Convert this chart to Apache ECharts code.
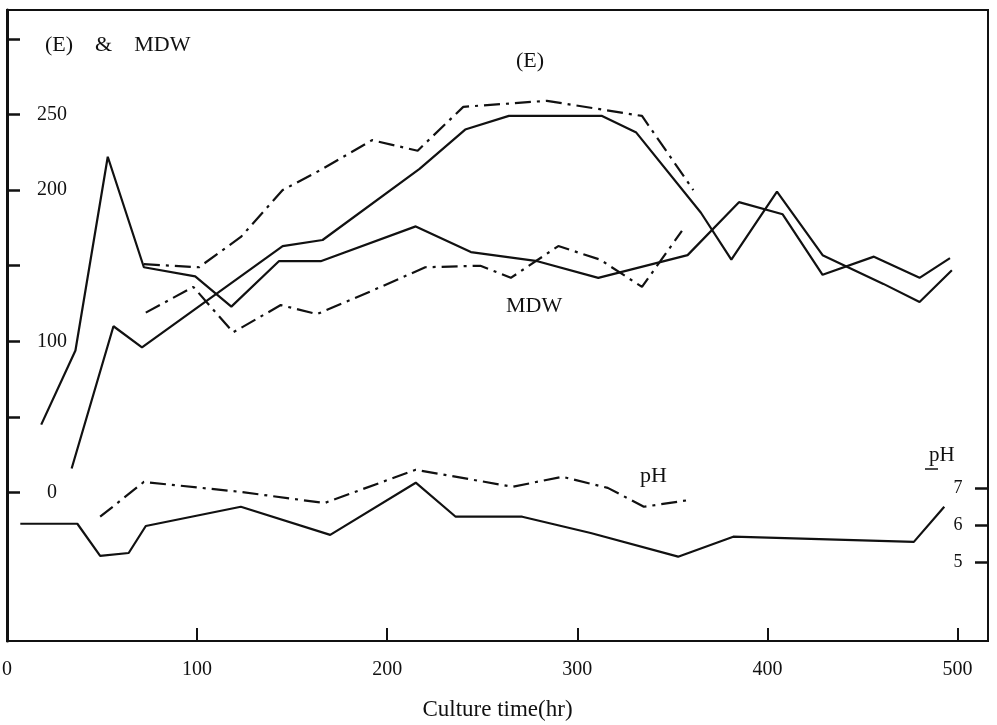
<!DOCTYPE html>
<html>
<head>
<meta charset="utf-8">
<script src="https://cdn.jsdelivr.net/npm/echarts@6/dist/echarts.min.js"></script>
<style>
	html, body { margin: 0; padding: 0; background: #fff; }
	#chart { width: 997px; height: 725px; }
</style>
</head>
<body>
<div id="chart"></div>
<script>
// culture time (hr) and readings
var eSolidHr = [34, 56, 71, 145, 166, 217, 241, 264, 313, 331, 365, 381, 405, 429, 461, 480, 497];
var eSolidVal = [16, 110, 96, 163, 167, 214, 240, 249, 249, 238, 185, 154, 199, 157, 138, 126, 147];

var eDashHr = [72, 101, 123, 145, 166, 192, 216, 240, 284, 334, 361];
var eDashVal = [151, 149, 169, 200, 214, 233, 226, 255, 259, 249, 200];

var mdwSolidHr = [18, 36, 53, 72, 99, 118, 143, 165, 215, 244, 279, 311, 358, 385, 408, 429, 456, 480, 496];
var mdwSolidVal = [45, 94, 222, 149, 143, 123, 153, 153, 176, 159, 153, 142, 157, 192, 184, 144, 156, 142, 155];

var mdwDashHr = [73, 98, 119, 144, 163, 193, 220, 249, 265, 290, 312, 334, 355];
var mdwDashVal = [119, 136, 106, 124, 118, 134, 149, 150, 142, 163, 154, 136, 173];

var phSolidHr = [7, 37, 49, 64, 73, 123, 170, 215, 236, 271, 307, 353, 382, 477, 493];
var phSolidVal = [6.03, 6.03, 5.16, 5.24, 5.97, 6.49, 5.73, 7.14, 6.22, 6.22, 5.78, 5.14, 5.68, 5.54, 6.49];

var phDashHr = [49, 72, 123, 167, 215, 266, 292, 316, 335, 360];
var phDashVal = [6.22, 7.16, 6.89, 6.59, 7.49, 7.03, 7.30, 7.00, 6.49, 6.68];

var xLabels = [0, 100, 200, 300, 400, 500];
var xTicks = [100, 200, 300, 400, 500];
var leftTicks = [0, 50, 100, 150, 200, 250, 300];
var leftLabels = [0, 100, 200, 250];
var phTicks = [5, 6, 7];

var FONT = 'Liberation Serif';
var INK = '#111';
var DASHDOT = [16, 6, 3, 6];

function zip(xs, ys) {
	var out = [];
	for (var i = 0; i < xs.length; i++) {
		out.push([xs[i], ys[i]]);
	}
	return out;
}

function lineSeries(name, xs, ys, dashed, yIdx) {
	return {
		name: name,
		type: 'line',
		yAxisIndex: yIdx || 0,
		data: zip(xs, ys),
		symbol: 'none',
		silent: true,
		animation: false,
		lineStyle: {
			color: INK,
			width: 2.2,
			type: dashed ? DASHDOT : 'solid'
		}
	};
}

function note(x, y, txt, size) {
	return { type: 'text', left: x, top: y, style: { text: txt, font: size + 'px "Liberation Serif"', fill: INK } };
}

var chart = echarts.init(document.getElementById('chart'));
chart.setOption({
	backgroundColor: '#fff',
	animation: false,
	grid: {
		left: 7, right: 9, top: 10, bottom: 84,
		outerBoundsMode: 'none',
		containLabel: false,
		show: true,
		borderColor: INK,
		borderWidth: 2
	},
	xAxis: {
		type: 'value',
		min: 0,
		max: 516,
		name: 'Culture time(hr)',
		nameLocation: 'middle',
		nameGap: 57,
		nameTextStyle: { fontFamily: FONT, fontSize: 23, color: INK },
		splitLine: { show: false },
		axisLine: { onZero: false, lineStyle: { color: INK, width: 2 } },
		axisTick: { inside: true, length: 13, customValues: xTicks, lineStyle: { color: INK, width: 2 } },
		axisLabel: { customValues: xLabels, margin: 19, fontFamily: FONT, fontSize: 20, color: INK }
	},
	yAxis: [{
		type: 'value',
		min: -98,
		max: 319,
		splitLine: { show: false },
		axisLine: { show: true, onZero: false, lineStyle: { color: INK, width: 3 } },
		axisTick: { show: true, inside: true, length: 13, customValues: leftTicks, lineStyle: { color: INK, width: 2.5 } },
		axisLabel: { inside: true, margin: 45, align: 'center', customValues: leftLabels, fontFamily: FONT, fontSize: 20, color: INK }
	}, {
		type: 'value',
		position: 'right',
		min: 2.86,
		max: 19.92,
		splitLine: { show: false },
		axisLine: { show: true, onZero: false, lineStyle: { color: INK, width: 2 } },
		axisTick: { show: true, inside: true, length: 13, customValues: phTicks, lineStyle: { color: INK, width: 2.5 } },
		axisLabel: { inside: true, margin: 30, align: 'center', customValues: phTicks, fontFamily: FONT, fontSize: 18, color: INK }
	}],
	graphic: [
		note(45, 34, '(E)    &    MDW', 22),
		note(516, 50, '(E)', 22),
		note(506, 295, 'MDW', 22),
		note(640, 465, 'pH', 22),
		note(929, 445, 'pH', 21),
		{ type: 'line', shape: { x1: 925, y1: 469, x2: 938, y2: 469 }, style: { stroke: INK, lineWidth: 1.5 } }
	],
	series: [
		lineSeries('E', eSolidHr, eSolidVal, false),
		lineSeries('E dashed', eDashHr, eDashVal, true),
		lineSeries('MDW', mdwSolidHr, mdwSolidVal, false),
		lineSeries('MDW dashed', mdwDashHr, mdwDashVal, true),
		lineSeries('pH', phSolidHr, phSolidVal, false, 1),
		lineSeries('pH dashed', phDashHr, phDashVal, true, 1)
	]
});
</script>
</body>
</html>
